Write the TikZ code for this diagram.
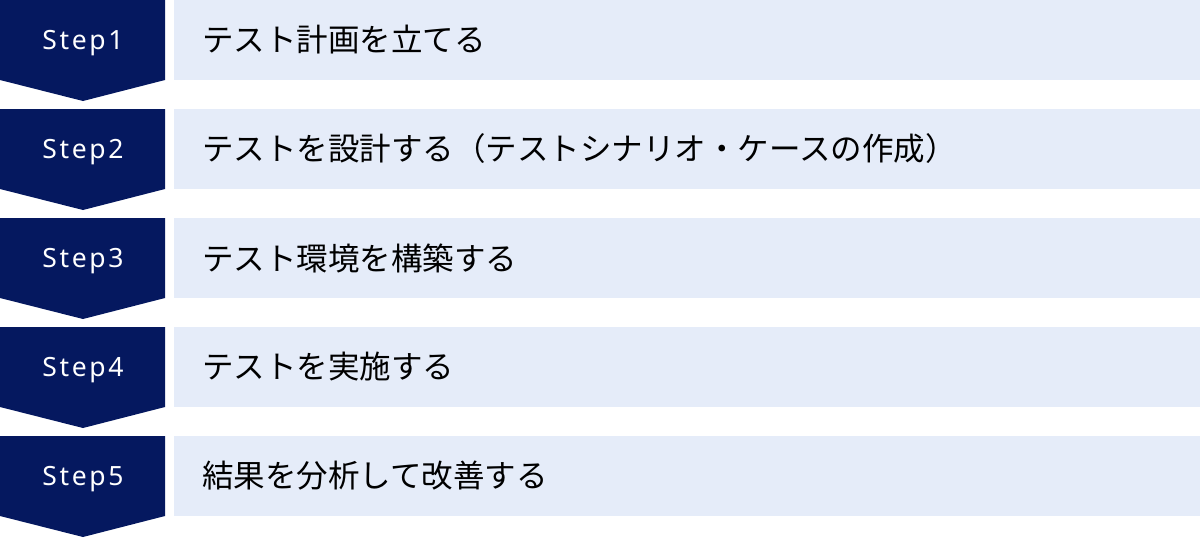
\documentclass[tikz,border=0pt]{standalone}
\usepackage{fontspec}
\setmainfont{Noto Sans}
\newfontfamily\jpfont{Noto Sans CJK JP}
\newfontfamily\stepfont[LetterSpace=10]{Noto Sans}
\definecolor{navy}{HTML}{05185F}
\definecolor{pale}{HTML}{E5ECF9}
\tikzset{
  stepshape/.style={fill=navy, draw=none},
  rowbox/.style={fill=pale, draw=none},
  steplabel/.style={text=white, font=\stepfont\fontsize{26.5}{30}\selectfont, anchor=base, inner sep=0pt},
  rowtext/.style={text=black, font=\jpfont\fontsize{31.5}{36}\selectfont, anchor=west, inner sep=0pt}
}
\begin{document}
\begin{tikzpicture}[x=1pt,y=-1pt]
\useasboundingbox (0,0) rectangle (1200,538);
\foreach \i/\t in {1/テスト計画を立てる, 2/テストを設計する（テストシナリオ・ケースの作成）, 3/テスト環境を構築する, 4/テストを実施する, 5/結果を分析して改善する}{
  \pgfmathsetmacro{\y}{(\i-1)*109}
  \fill[stepshape] (0,\y) -- (165,\y) -- (165,\y+80) -- (83,\y+101) -- (0,\y+80) -- cycle;
  \fill[rowbox] (174,\y) rectangle (1200,\y+80);
  \node[steplabel] (s\i) at (83,\y+49.5) {Step\i};
  \node[rowtext] (t\i) at (202,\y+40) {\t};
}
\end{tikzpicture}
\end{document}
